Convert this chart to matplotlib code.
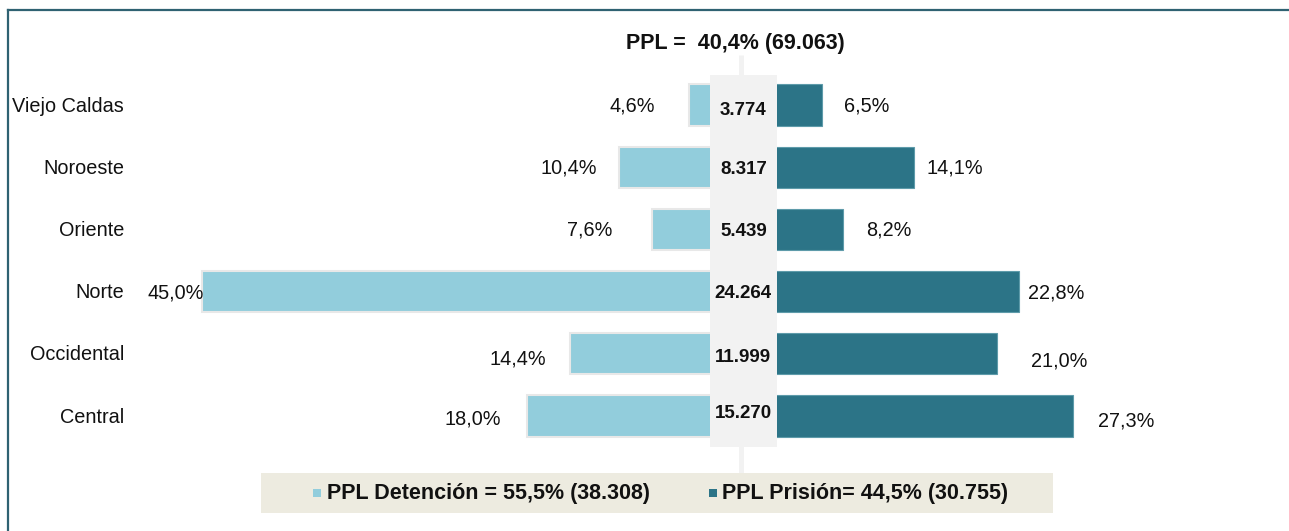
import matplotlib
matplotlib.use("Agg")
import matplotlib.pyplot as plt
from matplotlib.patches import Rectangle
from matplotlib.lines import Line2D

# ---- data ----
categories = ['Viejo Caldas', 'Noroeste', 'Oriente', 'Norte', 'Occidental', 'Central']
detencion_pct = [4.6, 10.4, 7.6, 45.0, 14.4, 18.0]
prision_pct = [6.5, 14.1, 8.2, 22.8, 21.0, 27.3]
totales = ['3.774', '8.317', '5.439', '24.264', '11.999', '15.270']
title_text = 'PPL =  40,4% (69.063)'
legend_labels = ['PPL Detención = 55,5% (38.308)', 'PPL Prisión= 44,5% (30.755)']

# ---- style ----
C_DET = '#92CDDC'
C_PRI = '#2C7487'
C_BAND = '#F2F2F2'
C_LEG = '#EDEBE0'
C_FRAME = '#2F6272'
W, H = 1289, 531
ZERO_PX, PX_PER = 744, 12.05
ROW0_PX, ROW_PX = 105, 62.2

# label offsets in pixels (dx from bar end, dy upwards)
det_off = [(-34, -1), (-22, -1), (-40, -1), (2, -1), (-24, -5), (-26, -3)]
pri_off = [(22, -1), (13, -1), (23, -1), (9, -1), (34, -7), (25, -5)]
tot_dy = [-5, -2, -2, -2, -4, 3]

plt.rcParams['font.family'] = ['Liberation Sans', 'DejaVu Sans']

fig = plt.figure(figsize=(W / 100, H / 100), dpi=100)
ax = fig.add_axes([0, 0, 1, 1])
ax.set_xlim(-ZERO_PX / PX_PER, (W - ZERO_PX) / PX_PER)
ax.set_ylim((H - ROW0_PX) / ROW_PX, -ROW0_PX / ROW_PX)
ax.axis('off')

y = list(range(len(categories)))
ax.barh(y, [-v for v in detencion_pct], height=0.66, color=C_DET,
        edgecolor='#E8E8E8', linewidth=1.5, zorder=2)
ax.barh(y, prision_pct, height=0.66, color=C_PRI,
        edgecolor='#5E9BAA', linewidth=0.8, zorder=2)

# central gray band + thin stem
def py(p):
    return (p - ROW0_PX) / ROW_PX

ax.plot([-0.25, -0.25], [py(55), py(473)], color=C_BAND, lw=3.6,
        solid_capstyle='butt', zorder=1)
ax.add_patch(Rectangle((-34 / PX_PER, py(75)), 67 / PX_PER, py(447) - py(75),
                       facecolor=C_BAND, edgecolor='none', zorder=3))

for i, cat in enumerate(categories):
    ax.annotate(cat, xy=((124 - ZERO_PX) / PX_PER, i), xytext=(0, -1),
                textcoords='offset pixels', ha='right', va='center',
                fontsize=14.3, color='#111111')
    ax.annotate(f"{detencion_pct[i]:.1f}%".replace('.', ','), xy=(-detencion_pct[i], i),
                xytext=det_off[i], textcoords='offset pixels',
                ha='right', va='center', fontsize=14.3, color='#111111', zorder=5)
    ax.annotate(f"{prision_pct[i]:.1f}%".replace('.', ','), xy=(prision_pct[i], i),
                xytext=pri_off[i], textcoords='offset pixels',
                ha='left', va='center', fontsize=14.3, color='#111111', zorder=5)
    ax.annotate(totales[i], xy=(-0.05, i), xytext=(0, tot_dy[i]),
                textcoords='offset pixels', ha='center', va='center',
                fontsize=13.5, fontweight='bold', color='#111111', zorder=5)

# title
fig.text(735 / W, 1 - 44 / H, title_text, ha='center', va='center',
         fontsize=15.5, fontweight='bold', color='#111111')

# legend box
fig.patches.append(Rectangle((261 / W, 1 - 513 / H), (1053 - 261) / W, 40 / H,
                             transform=fig.transFigure, facecolor=C_LEG,
                             edgecolor='none', zorder=0))
for (xm, xt, col, lab) in [(317, 327, C_DET, legend_labels[0]),
                           (713, 722, C_PRI, legend_labels[1])]:
    fig.patches.append(Rectangle(((xm - 4) / W, 1 - 497 / H), 8 / W, 8 / H,
                                 transform=fig.transFigure, facecolor=col,
                                 edgecolor='none', zorder=1))
    fig.text(xt / W, 1 - 494 / H, lab, ha='left', va='center', fontsize=15.5,
             fontweight='bold', color='#111111')

# frame (top and left lines)
fig.lines.append(Line2D([8 / W, 1], [1 - 10 / H, 1 - 10 / H], transform=fig.transFigure,
                        color=C_FRAME, lw=1.6))
fig.lines.append(Line2D([8 / W, 8 / W], [0, 1 - 10 / H], transform=fig.transFigure,
                        color=C_FRAME, lw=1.6))

fig.savefig('out.png', dpi=100)
